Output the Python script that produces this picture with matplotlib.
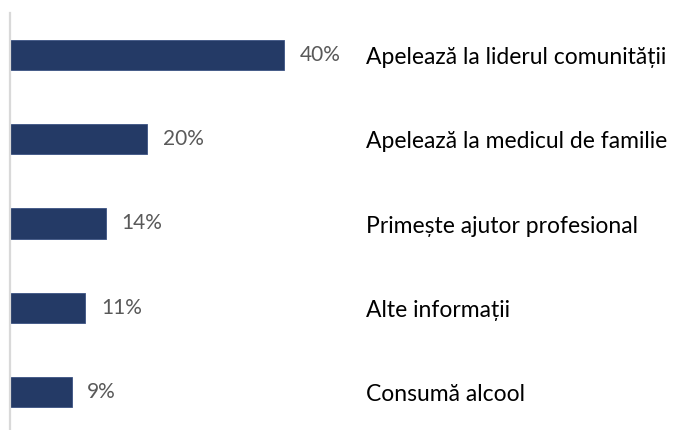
import matplotlib
matplotlib.use("Agg")
import matplotlib.pyplot as plt

categories = ["Apelează la liderul comunității",
              "Apelează la medicul de familie",
              "Primește ajutor profesional",
              "Alte informații",
              "Consumă alcool"]
values = [40, 20, 14, 11, 9]
value_labels = ["40%", "20%", "14%", "11%", "9%"]

plt.rcParams["font.family"] = ["Lato", "DejaVu Sans"]

fig = plt.figure(figsize=(6.94, 4.30), dpi=100)
ax = fig.add_axes([10 / 694, -4 / 430, 684 / 694, 421 / 430])

pos = list(range(len(categories)))
ax.barh(pos, values, height=0.36, color="#243a66", edgecolor="#3b5283", linewidth=0.6)

for p, v, lab in zip(pos, values, value_labels):
    ax.text(v + 2.3, p, lab, va="center", ha="left", fontsize=15, color="#595959")

for p, c in zip(pos, categories):
    ax.text(52.0, p + 0.03, c, va="center", ha="left", fontsize=16.5, color="#000000")

ax.set_xlim(0, 100)
ax.set_ylim(4.5, -0.5)
ax.set_xticks([])
ax.set_yticks([])
for s in ["top", "right", "bottom"]:
    ax.spines[s].set_visible(False)
ax.spines["left"].set_color("#d9d9d9")
ax.spines["left"].set_linewidth(1.6)

fig.savefig("out.png", dpi=100)
